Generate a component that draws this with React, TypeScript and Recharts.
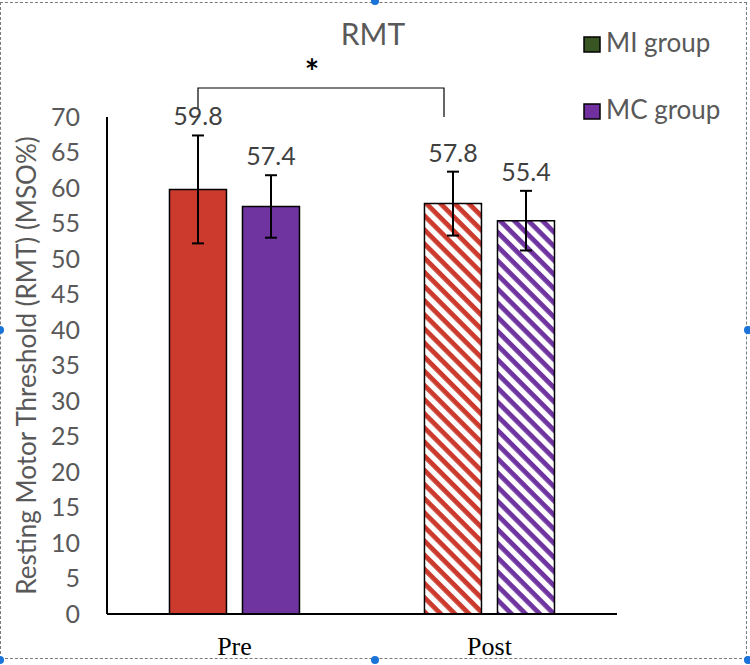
import React from 'react';
import { BarChart, Bar, XAxis, YAxis, ErrorBar, Cell, LabelList } from 'recharts';

const phases = ['Pre', 'Post'];
const miValues = [59.8, 57.8];
const mcValues = [57.4, 55.4];
const miErrors = [7.6, 4.5];
const mcErrors = [4.4, 4.2];
const yTicks = [0, 5, 10, 15, 20, 25, 30, 35, 40, 45, 50, 55, 60, 65, 70];

const legendItems = [
  { name: 'MI group', color: '#375623' },
  { name: 'MC group', color: '#7030A0' },
];

const RED = '#CB3A2D';
const PURPLE = '#6F34A0';
const GREY = '#595959';
const FONT = 'Lato, "Liberation Sans", sans-serif';

const data = phases.map((phase, i) => ({
  phase,
  mi: miValues[i],
  mc: mcValues[i],
  miErr: miErrors[i],
  mcErr: mcErrors[i],
}));

// value label sits a little above the top of the error bar
const makeLabel = (errors: number[]) => (props: any) => {
  const { x, y, width, height, value, index } = props;
  const pxPerUnit = height / value;
  const top = y - errors[index] * pxPerUnit;
  return (
    <text
      x={x + width / 2}
      y={top - 10}
      textAnchor="middle"
      fill="#404040"
      fontSize={25}
      fontFamily={FONT}
    >
      {value}
    </text>
  );
};

const YLabel = (props: any) => {
  const { viewBox } = props;
  const cx = viewBox.x - 8;
  const cy = viewBox.y + viewBox.height / 2;
  return (
    <text
      x={cx}
      y={cy}
      transform={`rotate(-90, ${cx}, ${cy})`}
      textAnchor="middle"
      dominantBaseline="middle"
      fill={GREY}
      fontSize={26}
      fontFamily={FONT}
    >
      Resting Motor Threshold (RMT) (MSO%)
    </text>
  );
};

const handles = [
  [0, 330], [748, 330], [375, 1], [375, 660], [0, 660], [748, 660],
];

export default function App() {
  return (
    <div style={{ position: 'absolute', left: 0, top: 0, width: 750, height: 665, background: '#fff' }}>
      <div
        style={{
          position: 'absolute', left: 0, top: 2, width: 747, height: 657,
          border: '1px dashed #7a7a7a', boxSizing: 'border-box',
        }}
      />
      <BarChart
        width={750}
        height={665}
        data={data}
        margin={{ top: 117, right: 133, bottom: 11, left: 37 }}
        barCategoryGap="24.5%"
        barGap={16}
      >
        <defs>
          <pattern id="hatchRed" width="10" height="10" patternUnits="userSpaceOnUse" patternTransform="rotate(45)">
            <rect width="10" height="10" fill="#fff" />
            <rect width="10" height="4.8" fill={RED} />
          </pattern>
          <pattern id="hatchPurple" width="10" height="10" patternUnits="userSpaceOnUse" patternTransform="rotate(45)">
            <rect width="10" height="10" fill="#fff" />
            <rect width="10" height="4.8" fill={PURPLE} />
          </pattern>
        </defs>
        <XAxis
          dataKey="phase"
          height={40}
          axisLine={{ stroke: '#000', strokeWidth: 2 }}
          tickLine={false}
          tickSize={0}
          tickMargin={23}
          tick={{ fill: '#000', fontSize: 26, fontFamily: '"Liberation Serif", "Times New Roman", serif' }}
        />
        <YAxis
          domain={[0, 70]}
          ticks={yTicks}
          interval={0}
          width={70}
          axisLine={{ stroke: '#000', strokeWidth: 2 }}
          tickLine={false}
          tickSize={0}
          tickMargin={27}
          tick={{ fill: GREY, fontSize: 25, fontFamily: FONT }}
          label={<YLabel />}
        />
        <Bar dataKey="mi" name="MI group" stroke="#000" strokeWidth={1.5} isAnimationActive={false}>
          {data.map((d, i) => (
            <Cell key={d.phase} fill={i === 0 ? RED : 'url(#hatchRed)'} />
          ))}
          <ErrorBar dataKey="miErr" width={6} stroke="#000" strokeWidth={2} />
          <LabelList dataKey="mi" content={makeLabel(miErrors)} />
        </Bar>
        <Bar dataKey="mc" name="MC group" stroke="#000" strokeWidth={1.5} isAnimationActive={false}>
          {data.map((d, i) => (
            <Cell key={d.phase} fill={i === 0 ? PURPLE : 'url(#hatchPurple)'} />
          ))}
          <ErrorBar dataKey="mcErr" width={6} stroke="#000" strokeWidth={2} />
          <LabelList dataKey="mc" content={makeLabel(mcErrors)} />
        </Bar>
      </BarChart>
      {/* title, legend, significance bracket, selection handles */}
      <svg style={{ position: 'absolute', left: 0, top: 0 }} width={750} height={665} pointerEvents="none">
        <text x={373} y={45} textAnchor="middle" fill={GREY} fontSize={30} fontFamily={FONT}>
          RMT
        </text>
        {legendItems.map((item, i) => (
          <g key={item.name}>
            <rect x={584} y={37 + i * 67} width={16} height={15} fill={item.color} stroke="#000" strokeWidth={1.5} />
            <text x={606} y={52 + i * 67} fill={GREY} fontSize={26} fontFamily={FONT}>
              {item.name}
            </text>
          </g>
        ))}
        <polyline points="198,108 198,88 444,88 444,117" fill="none" stroke="#000" strokeWidth={1.2} />
        <text x={312} y={84} textAnchor="middle" fill="#000" fontSize={34} fontWeight="bold" fontFamily={FONT}>
          *
        </text>
        {handles.map(([x, y], i) => (
          <circle key={i} cx={x} cy={y} r={4} fill="#1a73d9" />
        ))}
      </svg>
    </div>
  );
}
